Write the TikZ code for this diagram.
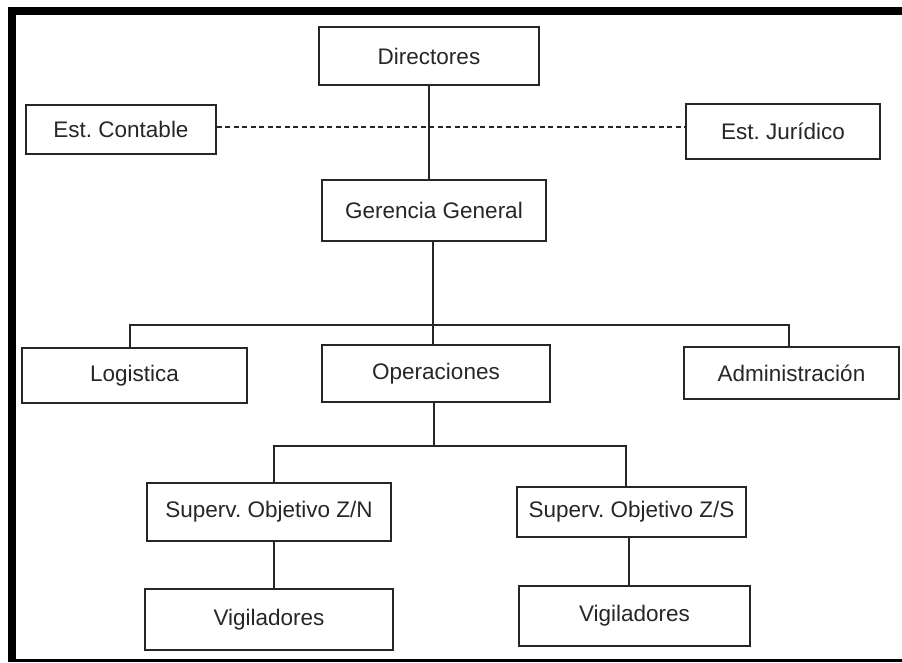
\documentclass[tikz,border=0pt]{standalone}
\usepackage{fontspec}
\setmainfont{Liberation Sans}
\frenchspacing
\begin{document}
\begin{tikzpicture}[x=1pt,y=-1pt,
  orgbox/.style={draw=black!85,line width=1.1pt,inner sep=0pt,fill=white,
    font=\fontsize{22.5}{26}\selectfont,text=black!85},
  link/.style={draw=black!85,line width=1.1pt},
  dotlink/.style={draw=black!85,line width=1.1pt,dash pattern=on 5pt off 3.5pt}]
\useasboundingbox (0,0) rectangle (902,662);
\fill[white] (0,0) rectangle (902,662);
% frame
\fill[black] (8,7) rectangle (902,15);
\fill[black] (8,7) rectangle (16,662);
\fill[black] (8,659) rectangle (902,662);
% nodes
\node[orgbox,minimum width=220pt,minimum height=58pt] (dir) at (429,56) {Directores};
\node[orgbox,minimum width=190pt,minimum height=49pt] (cont) at (121,129.5) {Est. Contable};
\node[orgbox,minimum width=194pt,minimum height=55pt] (jur) at (783,131.5) {Est. Jurídico};
\node[orgbox,minimum width=224pt,minimum height=61pt] (ger) at (434,210.5) {Gerencia General};
\node[orgbox,minimum width=225pt,minimum height=55pt] (log) at (134.5,375.5) {Logistica};
\node[orgbox,minimum width=228pt,minimum height=57pt] (ope) at (436,373.5) {Operaciones};
\node[orgbox,minimum width=215pt,minimum height=52pt] (adm) at (791.5,373) {Administración};
\node[orgbox,minimum width=244pt,minimum height=58pt] (zn) at (269,512) {Superv. Objetivo Z/N};
\node[orgbox,minimum width=229pt,minimum height=50pt] (zs) at (631.5,512) {Superv. Objetivo Z/S};
\node[orgbox,minimum width=248pt,minimum height=61pt] (v1) at (269,619.5) {Vigiladores};
\node[orgbox,minimum width=231pt,minimum height=60pt] (v2) at (634.5,616) {Vigiladores};
% helper coordinates
\coordinate (dl) at (0,127);
\coordinate (b1) at (433,325);
\coordinate (b2) at (434,446);
% connectors
\draw[dotlink] (cont.east |- dl) -- (jur.west |- dl);
\draw[link] (dir.south) -- (dir.south |- ger.north);
\draw[link] ([xshift=-1pt]ger.south) -- (b1);
\draw[link] ([xshift=-4.5pt]log.north) |- (b1) -| ([xshift=-2.5pt]adm.north);
\draw[link] (b1) -- (b1 |- ope.north);
\draw[link] (ope.south -| b2) -- (b2);
\draw[link] ([xshift=5pt]zn.north) |- (b2) -| ([xshift=-5.5pt]zs.north);
\draw[link] ([xshift=5pt]zn.south) -- ([xshift=5pt]zn.south |- v1.north);
\draw[link] ([xshift=-2.5pt]zs.south) -- ([xshift=-2.5pt]zs.south |- v2.north);
\end{tikzpicture}
\end{document}
